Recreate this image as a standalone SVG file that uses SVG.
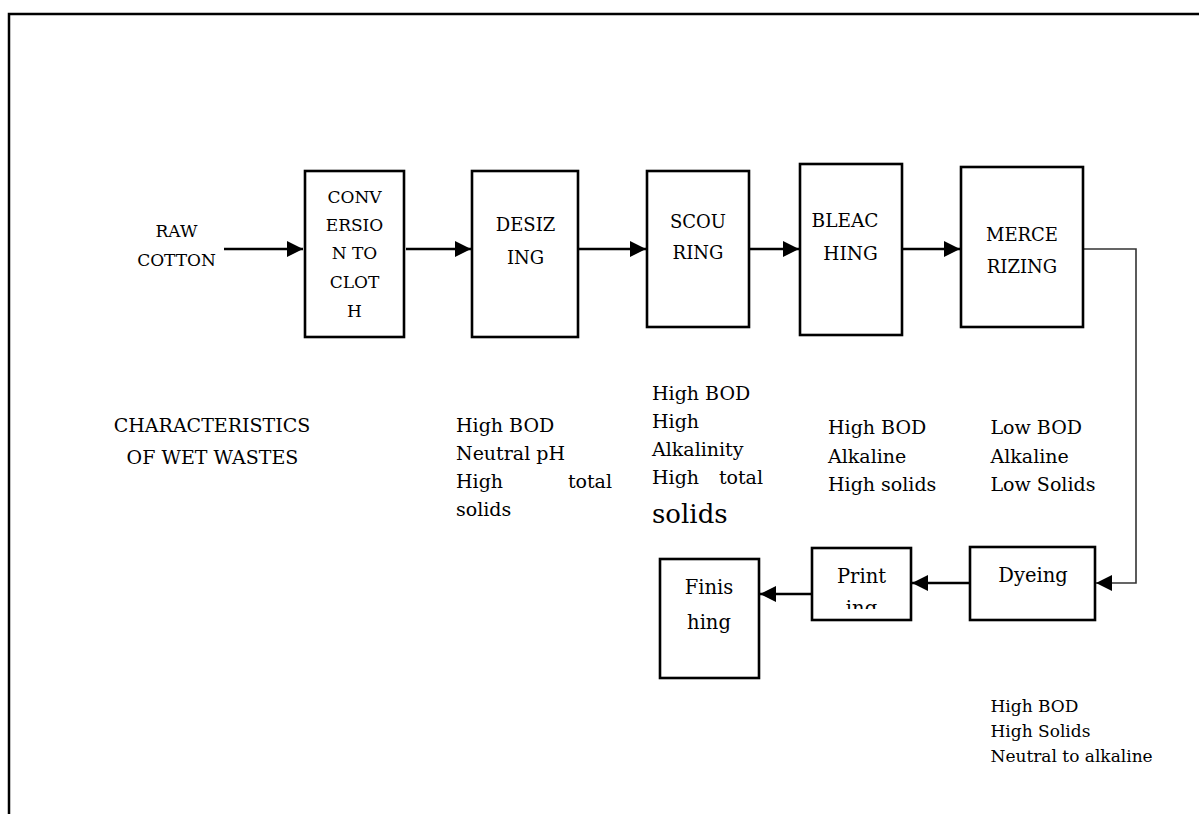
<svg xmlns="http://www.w3.org/2000/svg" width="1199" height="814" viewBox="0 0 1199 814">
<style>
.box{fill:#fff;stroke:#000;stroke-width:2.6}
.t{font-family:"DejaVu Serif","Liberation Serif",serif;fill:#000}
.c{text-anchor:middle}
.e{text-anchor:end}
.ln{fill:none;stroke:#000;stroke-width:2.5}
.thin{fill:none;stroke:#333;stroke-width:1.6}
</style>
<defs>
<marker id="ah" markerUnits="userSpaceOnUse" markerWidth="17" markerHeight="17" refX="16" refY="8" orient="auto">
<path d="M0,0 L16,8 L0,16 z" fill="#000"/>
</marker>
<clipPath id="clipPrint"><rect x="812" y="548" width="99" height="61"/></clipPath>
</defs>
<rect width="1199" height="814" fill="#fff"/>
<path d="M9,814 V14 H1199" fill="none" stroke="#000" stroke-width="2.5"/>

<g id="connectors">
<path class="ln" d="M224,249 H303" marker-end="url(#ah)"/>
<path class="ln" d="M406,249 H471" marker-end="url(#ah)"/>
<path class="ln" d="M578,249 H646" marker-end="url(#ah)"/>
<path class="ln" d="M749,249 H799" marker-end="url(#ah)"/>
<path class="ln" d="M902,249 H960" marker-end="url(#ah)"/>
<path class="thin" d="M1084,249 H1136 V583 H1096" marker-end="url(#ah)"/>
<path class="ln" d="M970,583 H912" marker-end="url(#ah)"/>
<path class="ln" d="M812,594 H760" marker-end="url(#ah)"/>
</g>

<g id="raw-cotton" class="t c" font-size="17">
<text x="176.5" y="237">RAW</text>
<text x="176.5" y="266">COTTON</text>
</g>

<g id="conversion">
<rect class="box" x="305" y="171" width="99" height="166"/>
<g class="t c" font-size="17">
<text x="354.5" y="203">CONV</text>
<text x="354.5" y="231">ERSIO</text>
<text x="354.5" y="259">N TO</text>
<text x="354.5" y="288">CLOT</text>
<text x="354.5" y="316.5">H</text>
</g>
</g>

<g id="desizing">
<rect class="box" x="472" y="171" width="106" height="166"/>
<g class="t c" font-size="18">
<text x="525.5" y="231">DESIZ</text>
<text x="525.5" y="264">ING</text>
</g>
</g>

<g id="scouring">
<rect class="box" x="647" y="171" width="102" height="156"/>
<g class="t c" font-size="18">
<text x="698" y="228">SCOU</text>
<text x="698" y="259">RING</text>
</g>
</g>

<g id="bleaching">
<rect class="box" x="800" y="164" width="102" height="171"/>
<g class="t c" font-size="18.5">
<text x="845" y="227">BLEAC</text>
<text x="850.5" y="260">HING</text>
</g>
</g>

<g id="mercerizing">
<rect class="box" x="961" y="167" width="122" height="160"/>
<g class="t c" font-size="18">
<text x="1022" y="241">MERCE</text>
<text x="1022" y="273">RIZING</text>
</g>
</g>

<g id="dyeing">
<rect class="box" x="970" y="547" width="125" height="73"/>
<text class="t c" font-size="19.5" x="1033" y="582">Dyeing</text>
</g>

<g id="printing">
<rect class="box" x="812" y="548" width="99" height="72"/>
<text class="t c" font-size="19.5" x="861.5" y="583">Print</text>
<text class="t c" font-size="19.5" x="861.5" y="615" clip-path="url(#clipPrint)">ing</text>
</g>

<g id="finishing">
<rect class="box" x="660" y="559" width="99" height="119"/>
<g class="t c" font-size="19.5">
<text x="709" y="594">Finis</text>
<text x="709" y="629">hing</text>
</g>
</g>

<g id="characteristics-label" class="t c" font-size="19">
<text x="212" y="432">CHARACTERISTICS</text>
<text x="212.5" y="464">OF WET WASTES</text>
</g>

<g id="desizing-wastes" class="t" font-size="19">
<text x="456" y="432">High BOD</text>
<text x="456" y="459.5">Neutral pH</text>
<text x="456" y="488">High</text>
<text class="e" x="612" y="488">total</text>
<text x="456" y="516">solids</text>
</g>

<g id="scouring-wastes" class="t" font-size="19">
<text x="652" y="400">High BOD</text>
<text x="652" y="428">High</text>
<text x="652" y="456">Alkalinity</text>
<text x="652" y="483.5">High</text>
<text class="e" x="763" y="483.5">total</text>
<text x="652" y="523" font-size="26">solids</text>
</g>

<g id="bleaching-wastes" class="t" font-size="19">
<text x="828" y="434">High BOD</text>
<text x="828" y="462.5">Alkaline</text>
<text x="828" y="491">High solids</text>
</g>

<g id="mercerizing-wastes" class="t" font-size="19">
<text x="990.5" y="434">Low BOD</text>
<text x="990.5" y="462.5">Alkaline</text>
<text x="990.5" y="491">Low Solids</text>
</g>

<g id="dyeing-wastes" class="t" font-size="17">
<text x="990.5" y="711.5">High BOD</text>
<text x="990.5" y="736.5">High Solids</text>
<text x="990.5" y="761.5">Neutral to alkaline</text>
</g>
</svg>
